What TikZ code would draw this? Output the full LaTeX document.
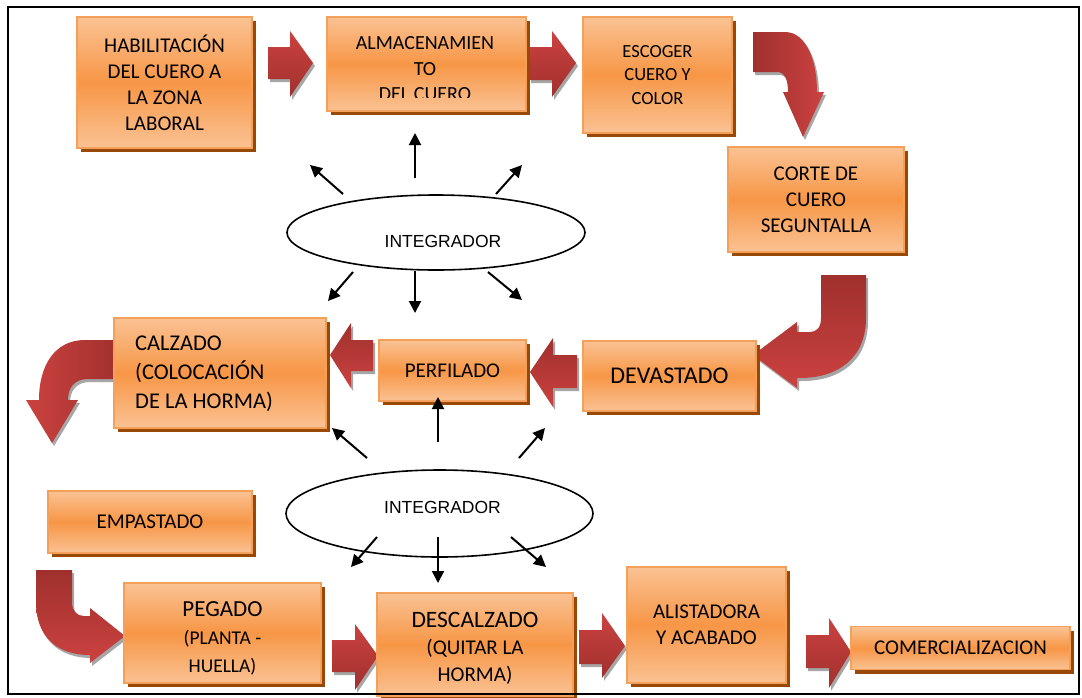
\documentclass[tikz,border=0pt]{standalone}
\usepackage{fontspec}
\newfontfamily\calfont{Carlito}
\newfontfamily\arfont{Liberation Sans}
\usetikzlibrary{shapes.geometric,shadows,arrows.meta}
\definecolor{omid}{HTML}{F79646}
\definecolor{olight}{HTML}{FAC293}
\definecolor{oline}{HTML}{F5A05A}
\definecolor{sbrown}{HTML}{984807}
\definecolor{rlight}{HTML}{CB4240}
\definecolor{rdark}{HTML}{A0302D}
\definecolor{rshadow}{HTML}{A6A6A6}
\tikzset{
  box/.style={draw=oline, line width=1.3pt, top color=olight, bottom color=olight, middle color=omid,
    drop shadow={shadow xshift=4pt, shadow yshift=-4pt, fill=sbrown, opacity=1},
    inner sep=0pt, align=center, text=black, font=\calfont\fontsize{21}{26}\selectfont},
  redsh/.style={drop shadow={shadow xshift=2pt, shadow yshift=-3pt, fill=rshadow, opacity=1}},
  redR/.style={redsh, top color=rlight, bottom color=rdark},
  redL/.style={redsh, top color=rdark, bottom color=rlight},
  oval/.style={draw, ellipse, line width=1.6pt, fill=white, inner sep=0pt},
  ovaltext/.style={font=\arfont\fontsize{17.5}{20}\selectfont, inner sep=0pt},
  thin/.style={line width=2pt, -{Triangle[length=12pt,width=12pt]}},
}
\begin{document}
\begin{tikzpicture}[x=1pt,y=-1pt]
\useasboundingbox (0,0) rectangle (1082,697);
\fill[white] (0,0) rectangle (1082,697);

% straight block arrows
\path[redR] (268,47) -- (290,47) -- (290,31) -- (313,63) -- (290,97) -- (290,79) -- (268,79) -- cycle;
\path[redR] (529,47) -- (552,47) -- (552,31) -- (576,63) -- (552,97) -- (552,80) -- (529,80) -- cycle;
\path[redL] (577,355) -- (553,355) -- (553,338) -- (530,372) -- (553,407) -- (553,388) -- (577,388) -- cycle;
\path[redL] (373,340) -- (351,340) -- (351,323) -- (330,355) -- (351,388) -- (351,371) -- (373,371) -- cycle;
\path[redR] (332,640) -- (355,640) -- (355,624) -- (378,656) -- (355,690) -- (355,672) -- (332,672) -- cycle;
\path[redR] (579,630) -- (602,630) -- (602,613) -- (625,646) -- (602,678) -- (602,664) -- (579,664) -- cycle;
\path[redR] (806,635) -- (829,635) -- (829,618) -- (851,652) -- (829,688) -- (829,668) -- (806,668) -- cycle;

% curved block arrows
\path[redsh, left color=rdark, right color=rlight]
  (753,32) -- (785,32) .. controls (806,32) and (817,60) .. (817,92) -- (824,92) -- (803,137) -- (783,92) -- (788,92)
  .. controls (788,80) and (785,72) .. (777,72) -- (753,72) -- cycle;
\path[redsh, top color=rdark, bottom color=rlight]
  (821,275) -- (866,275) -- (866,318) .. controls (866,358) and (838,378) .. (800,378) -- (797,378) -- (797,388)
  -- (753,355) -- (797,322) -- (797,332) -- (810,332) .. controls (817,332) and (821,327) .. (821,318) -- cycle;
\path[redsh, left color=rlight, right color=rdark]
  (120,340) -- (85,340) .. controls (55,340) and (39,365) .. (39,400) -- (26,400) -- (52,443) -- (78,400) -- (68,400)
  .. controls (68,388) and (74,379) .. (88,379) -- (120,379) -- cycle;
\path[redsh, top color=rdark, bottom color=rlight]
  (36,570) -- (72,570) -- (72,602) .. controls (72,611) and (77,616) .. (84,616) -- (90,616) -- (90,608) -- (125,636)
  -- (90,663) -- (90,655) .. controls (55,655) and (36,635) .. (36,602) -- cycle;

% boxes
\node[box, minimum width=175pt, minimum height=131pt] (hab) at (164.5,82.5) {HABILITACIÓN\\DEL CUERO A\\LA ZONA\\LABORAL};
\node[box, minimum width=199pt, minimum height=94pt] (alm) at (426.5,64) {};
\begin{scope}
  \clip (327,17) rectangle (526,97.5);
  \node[align=center, inner sep=0pt, font=\calfont\fontsize{20}{25.5}\selectfont] (almt) at (425,69) {ALMACENAMIEN\\TO\\DEL CUERO};
\end{scope}
\node[box, minimum width=149pt, minimum height=116pt, font=\calfont\fontsize{18.5}{23.5}\selectfont] (esc) at (657.5,75) {ESCOGER\\CUERO Y\\COLOR};
\node[box, minimum width=176pt, minimum height=105pt] (cor) at (816,199.5) {CORTE DE\\CUERO\\SEGUNTALLA};
\node[box, minimum width=173pt, minimum height=70pt, font=\calfont\fontsize{24}{28}\selectfont] (dev) at (669.5,376) {DEVASTADO};
\node[box, minimum width=147pt, minimum height=61pt] (per) at (452.5,370.5) {PERFILADO};
\node[box, minimum width=212pt, minimum height=110pt] (cal) at (220,373) {};
\node[anchor=west, align=left, inner sep=0pt, font=\calfont\fontsize{22.5}{29}\selectfont] (calt) at (135,374) {CALZADO\\(COLOCACIÓN\\DE LA HORMA)};
\node[box, minimum width=204pt, minimum height=62pt] (emp) at (150,522) {EMPASTADO};
\node[box, minimum width=197pt, minimum height=100pt] (peg) at (222.5,633) {};
\node[align=center, inner sep=0pt, font=\calfont\fontsize{19.5}{28}\selectfont] (pegt) at (222.5,638) {{\fontsize{23}{28}\selectfont PEGADO}\\(PLANTA -\\HUELLA)};
\node[box, minimum width=196pt, minimum height=103pt] (des) at (475,644.5) {};
\node[align=center, inner sep=0pt, font=\calfont\fontsize{21}{27}\selectfont] (dest) at (475,648) {{\fontsize{23.5}{27}\selectfont DESCALZADO}\\(QUITAR LA\\HORMA)};
\node[box, minimum width=159pt, minimum height=116pt] (ali) at (706.5,625) {ALISTADORA\\Y ACABADO};
\node[box, minimum width=219pt, minimum height=43pt] (com) at (960.5,648) {COMERCIALIZACION};

% integrators
\node[oval, minimum width=298pt, minimum height=75pt] (i1) at (436,232.5) {};
\node[ovaltext] (i1t) at (443,241) {INTEGRADOR};
\node[oval, minimum width=307pt, minimum height=87pt] (i2) at (439.5,513.5) {};
\node[ovaltext] (i2t) at (442.5,507) {INTEGRADOR};

\coordinate (a1s) at (415,178); \coordinate (a1e) at (415,133);
\coordinate (a2s) at (343,194); \coordinate (a2e) at (310,165);
\coordinate (a3s) at (496,194); \coordinate (a3e) at (522,165);
\coordinate (a4s) at (353,272); \coordinate (a4e) at (328,301);
\coordinate (a5s) at (415,271); \coordinate (a5e) at (415,313);
\coordinate (a6s) at (488,272); \coordinate (a6e) at (522,300);
\coordinate (b1s) at (438,442); \coordinate (b1e) at (438,397);
\coordinate (b2s) at (367,458); \coordinate (b2e) at (332,428);
\coordinate (b3s) at (519,458); \coordinate (b3e) at (545,428);
\coordinate (b4s) at (377,537); \coordinate (b4e) at (351,567);
\coordinate (b5s) at (438,537); \coordinate (b5e) at (438,583);
\coordinate (b6s) at (511,537); \coordinate (b6e) at (546,567);
\foreach \n in {a1,a2,a3,a4,a5,a6,b1,b2,b3,b4,b5,b6}{\draw[thin] (\n s) -- (\n e);}

% frame
\draw[line width=2pt] (8,7) rectangle (1079,694);
\end{tikzpicture}
\end{document}
